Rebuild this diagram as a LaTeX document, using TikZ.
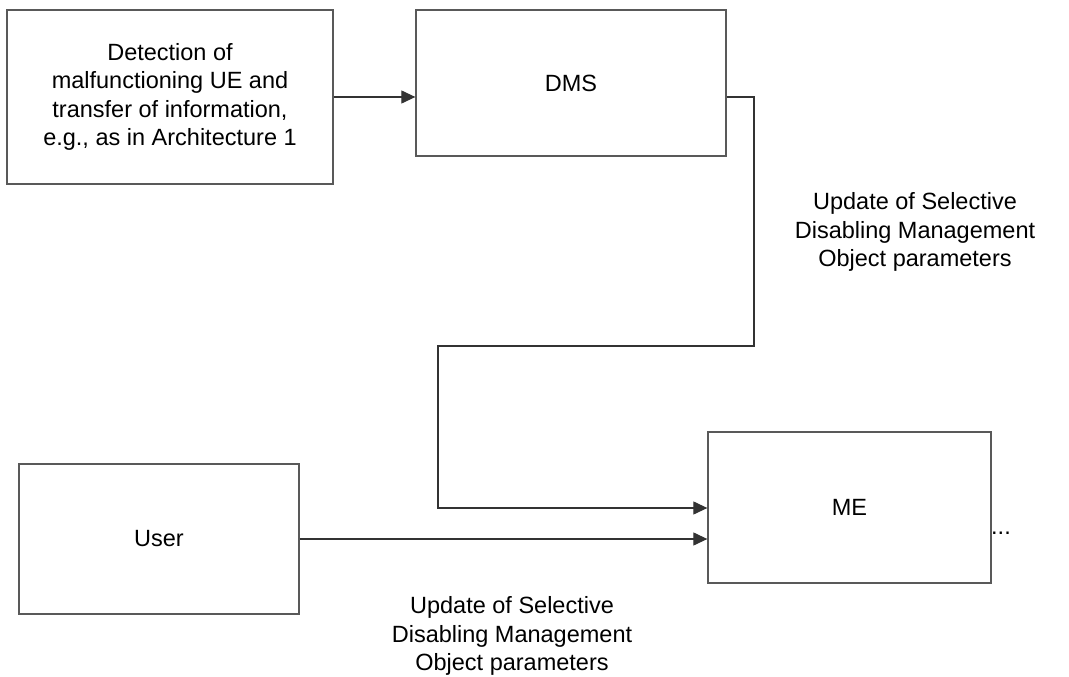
\documentclass[tikz,border=0pt]{standalone}
\usepackage{fontspec}
\setmainfont{Liberation Sans}
\usetikzlibrary{arrows.meta}

\tikzset{
  blockbox/.style={draw=black!65, line width=1.3pt, align=center,
    inner sep=0pt},
  flowline/.style={draw=black!80, line width=1.2pt,
    -{Triangle[length=14pt, width=13pt]}},
  note/.style={align=center}
}

\begin{document}
\begin{tikzpicture}[x=1pt, y=-1pt,
    every node/.style={font=\fontsize{23.5}{28.5}\selectfont}]
  \useasboundingbox (0,0) rectangle (1069,677);
  % blocks
  \node[blockbox, minimum width=326pt, minimum height=174pt] (detect) at (170,97)
    {Detection of\\malfunctioning UE and\\transfer of information,\\e.g., as in Architecture 1};
  \node[blockbox, minimum width=310pt, minimum height=146pt] (dms) at (571,83) {DMS};
  \node[blockbox, minimum width=283pt, minimum height=151pt] (me) at (849.5,507.5) {ME};
  \node[blockbox, minimum width=280pt, minimum height=150pt] (user) at (159,539) {User};
  \node[anchor=west, inner sep=0pt] (more) at (991,533) {...};
  % connectors
  \coordinate (turn) at (754,346);
  \coordinate (drop) at (438,508);
  \draw[flowline] (detect.east) -- (detect.east -| dms.west);
  \draw[flowline] (dms.east |- detect.east) -| (turn) -| (drop) -- (drop -| me.west);
  \draw[flowline] (user.east) -- (user.east -| me.west);
  % labels
  \node[note] (upd1) at (915,232)
    {Update of Selective\\Disabling Management\\Object parameters};
  \node[note] (upd2) at (512,636)
    {Update of Selective\\Disabling Management\\Object parameters};
\end{tikzpicture}
\end{document}
